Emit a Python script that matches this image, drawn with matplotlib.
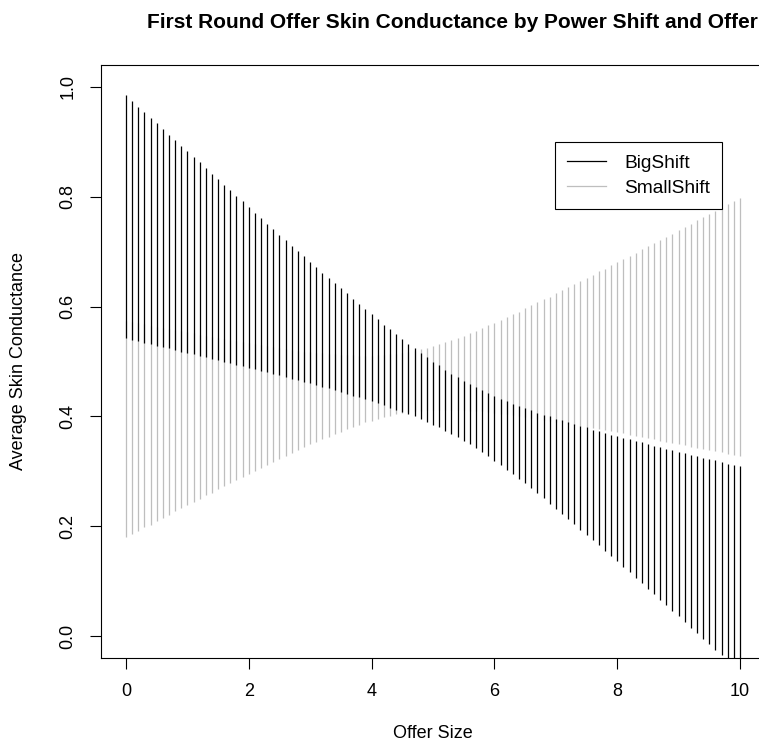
import numpy as np
import matplotlib
matplotlib.use("Agg")
import matplotlib.pyplot as plt
from matplotlib.lines import Line2D

# Offer sizes 0.0 .. 10.0 in steps of 0.1
offer = [round(i / 10, 1) for i in range(101)]

# BigShift interval: lower and upper ends of each segment
big_lo = [0.542, 0.539, 0.537, 0.534, 0.532, 0.529, 0.526, 0.524, 0.521, 0.518,
          0.516, 0.513, 0.510, 0.508, 0.505, 0.502, 0.500, 0.497, 0.494, 0.491,
          0.489, 0.486, 0.483, 0.480, 0.477, 0.475, 0.472, 0.469, 0.466, 0.463,
          0.460, 0.457, 0.454, 0.451, 0.448, 0.444, 0.441, 0.438, 0.435, 0.431,
          0.428, 0.424, 0.420, 0.416, 0.412, 0.408, 0.404, 0.400, 0.395, 0.390,
          0.385, 0.380, 0.374, 0.368, 0.362, 0.356, 0.349, 0.342, 0.335, 0.327,
          0.319, 0.311, 0.303, 0.295, 0.286, 0.278, 0.269, 0.260, 0.251, 0.241,
          0.232, 0.223, 0.213, 0.204, 0.194, 0.184, 0.175, 0.165, 0.155, 0.145,
          0.136, 0.126, 0.116, 0.106, 0.096, 0.086, 0.076, 0.066, 0.056, 0.046,
          0.036, 0.025, 0.015, 0.005, -0.005, -0.015, -0.025, -0.035, -0.045, -0.056,
          -0.066]
big_hi = [0.985, 0.975, 0.964, 0.954, 0.944, 0.934, 0.924, 0.913, 0.903, 0.893,
          0.883, 0.873, 0.863, 0.852, 0.842, 0.832, 0.822, 0.812, 0.802, 0.792,
          0.782, 0.771, 0.761, 0.751, 0.741, 0.731, 0.721, 0.711, 0.702, 0.692,
          0.682, 0.672, 0.662, 0.652, 0.643, 0.633, 0.624, 0.614, 0.605, 0.595,
          0.586, 0.577, 0.567, 0.559, 0.550, 0.541, 0.532, 0.524, 0.516, 0.508,
          0.500, 0.493, 0.485, 0.478, 0.472, 0.465, 0.459, 0.453, 0.448, 0.442,
          0.437, 0.432, 0.428, 0.423, 0.419, 0.415, 0.411, 0.407, 0.403, 0.400,
          0.396, 0.393, 0.389, 0.386, 0.383, 0.380, 0.376, 0.373, 0.370, 0.367,
          0.364, 0.361, 0.358, 0.355, 0.353, 0.350, 0.347, 0.344, 0.341, 0.339,
          0.336, 0.333, 0.330, 0.328, 0.325, 0.322, 0.320, 0.317, 0.314, 0.311,
          0.309]

# SmallShift interval: lower and upper ends of each segment
small_lo = [0.180, 0.186, 0.192, 0.198, 0.203, 0.209, 0.215, 0.221, 0.227, 0.233,
            0.238, 0.244, 0.250, 0.256, 0.261, 0.267, 0.273, 0.278, 0.284, 0.290,
            0.295, 0.301, 0.306, 0.312, 0.317, 0.323, 0.328, 0.333, 0.338, 0.344,
            0.349, 0.354, 0.359, 0.363, 0.368, 0.372, 0.377, 0.381, 0.385, 0.389,
            0.392, 0.396, 0.399, 0.401, 0.404, 0.406, 0.408, 0.409, 0.410, 0.411,
            0.412, 0.412, 0.412, 0.412, 0.412, 0.411, 0.410, 0.410, 0.409, 0.408,
            0.406, 0.405, 0.404, 0.402, 0.401, 0.399, 0.397, 0.396, 0.394, 0.392,
            0.390, 0.389, 0.387, 0.385, 0.383, 0.381, 0.379, 0.377, 0.375, 0.373,
            0.371, 0.369, 0.367, 0.365, 0.363, 0.360, 0.358, 0.356, 0.354, 0.352,
            0.350, 0.348, 0.345, 0.343, 0.341, 0.339, 0.337, 0.335, 0.332, 0.330,
            0.328]
small_hi = [0.574, 0.572, 0.570, 0.568, 0.565, 0.563, 0.561, 0.559, 0.557, 0.555,
            0.553, 0.551, 0.549, 0.547, 0.545, 0.543, 0.541, 0.539, 0.537, 0.535,
            0.533, 0.531, 0.530, 0.528, 0.526, 0.524, 0.523, 0.521, 0.520, 0.518,
            0.517, 0.516, 0.515, 0.513, 0.513, 0.512, 0.511, 0.511, 0.510, 0.510,
            0.510, 0.511, 0.512, 0.513, 0.514, 0.515, 0.517, 0.520, 0.522, 0.525,
            0.528, 0.532, 0.535, 0.539, 0.543, 0.547, 0.552, 0.556, 0.561, 0.566,
            0.571, 0.576, 0.581, 0.586, 0.591, 0.597, 0.602, 0.608, 0.613, 0.618,
            0.624, 0.630, 0.635, 0.641, 0.646, 0.652, 0.658, 0.664, 0.669, 0.675,
            0.681, 0.687, 0.692, 0.698, 0.704, 0.710, 0.716, 0.721, 0.727, 0.733,
            0.739, 0.745, 0.751, 0.757, 0.763, 0.768, 0.774, 0.780, 0.786, 0.792,
            0.798]

x_ticks = [0, 2, 4, 6, 8, 10]
y_ticks = [0.0, 0.2, 0.4, 0.6, 0.8, 1.0]
y_tick_labels = ['0.0', '0.2', '0.4', '0.6', '0.8', '1.0']
series_names = ['BigShift', 'SmallShift']
big_color, small_color = 'black', '#bebebe'

plt.rcParams['font.family'] = ['Liberation Sans', 'DejaVu Sans']
fig = plt.figure(figsize=(7.59, 7.51), dpi=100)
ax = fig.add_axes([101.4 / 759, 93 / 751, 663.2 / 759, 593 / 751])

ax.vlines(offer, small_lo, small_hi, colors=small_color, lw=0.9)
ax.vlines(offer, big_lo, big_hi, colors=big_color, lw=0.9)

ax.set_xlim(-0.4, 10.4)
ax.set_ylim(-0.04, 1.04)
ax.set_xticks(x_ticks)
ax.set_yticks(y_ticks)
ax.set_yticklabels(y_tick_labels, rotation=90, va='center')
ax.tick_params(direction='out', length=8, width=0.8, labelsize=13, pad=10)
ax.set_xlabel('Offer Size', fontsize=13, labelpad=18)
ax.set_ylabel('Average Skin Conductance', fontsize=13, labelpad=23)
fig.text(452 / 759, 1 - 22 / 751,
         'First Round Offer Skin Conductance by Power Shift and Offer',
         fontsize=15, fontweight='bold', ha='center', va='center')
for s in ax.spines.values():
    s.set_linewidth(0.8)

handles = [Line2D([], [], color=big_color, lw=0.9),
           Line2D([], [], color=small_color, lw=0.9)]
leg = ax.legend(handles, series_names, loc='upper left',
                bbox_to_anchor=((555 - 101.4) / 663.2, (658 - 141.7) / 593),
                borderaxespad=0, fancybox=False, edgecolor='black', framealpha=1,
                fontsize=13.8, handlelength=2.0, handletextpad=0.95, borderpad=0.65,
                labelspacing=0.4)
leg.get_frame().set_linewidth(0.8)

fig.savefig('out.png', dpi=100)
